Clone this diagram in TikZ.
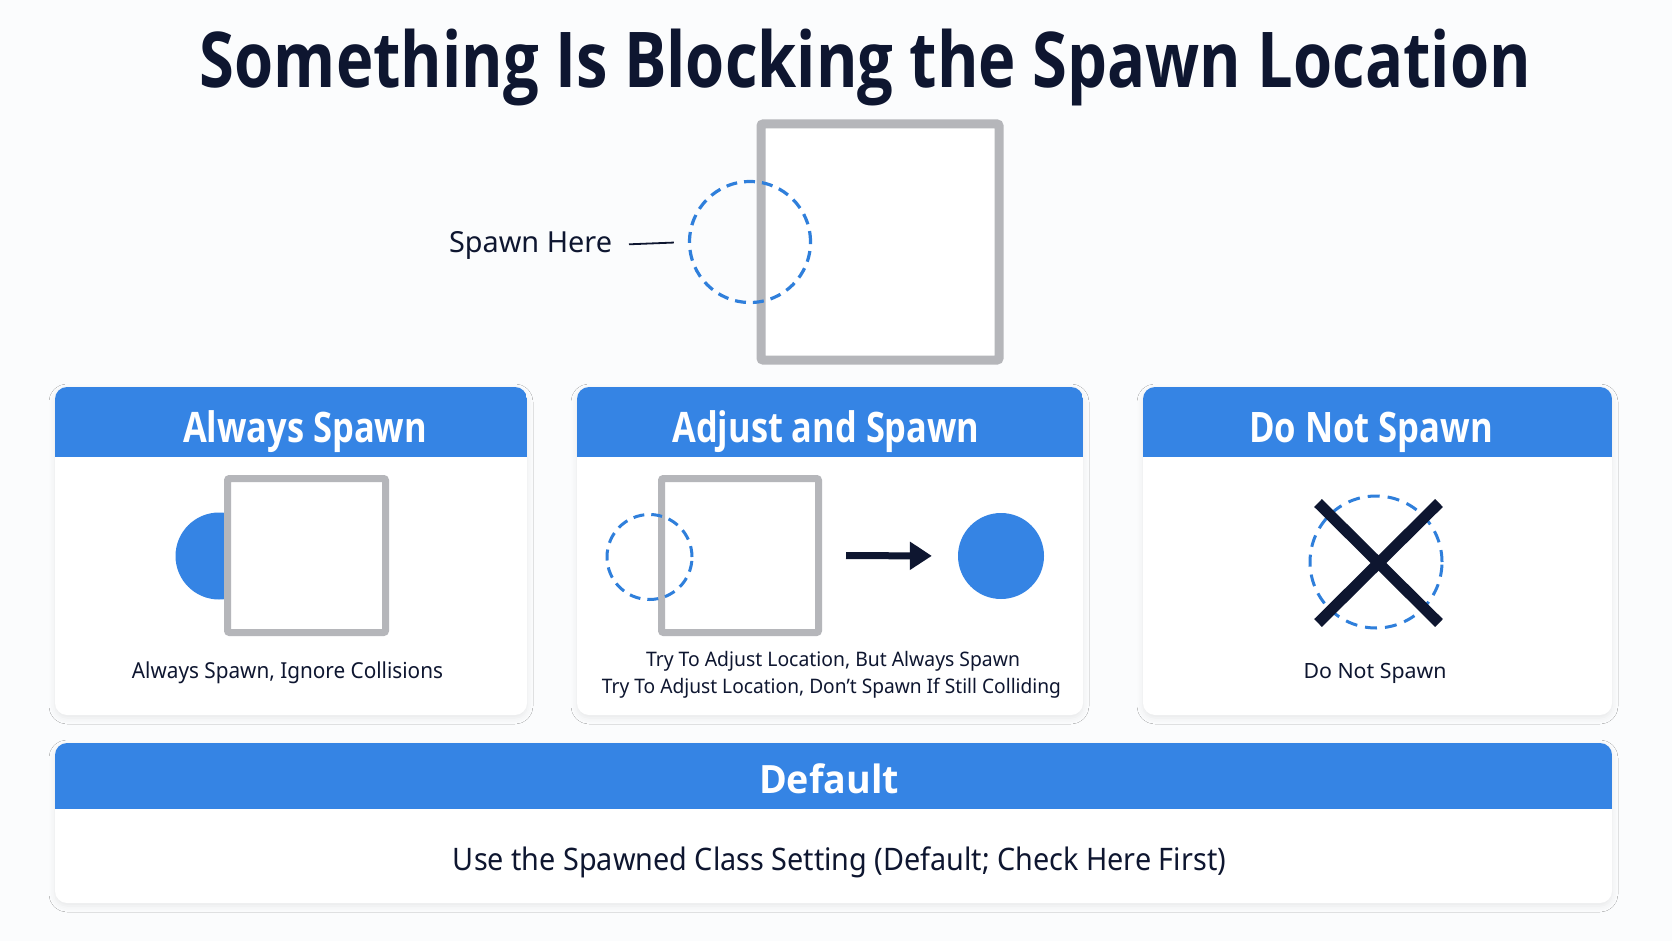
\documentclass[tikz,border=0pt]{standalone}
\usepackage{fontspec}
\setmainfont{Noto Sans}
\newfontfamily\boldfam{Open Sans}
\usetikzlibrary{arrows.meta,shadows.blur}
\definecolor{hdr}{RGB}{53,132,228}
\definecolor{dblue}{RGB}{47,127,219}
\definecolor{navy}{RGB}{14,22,48}
\definecolor{sqgray}{RGB}{181,182,186}
\definecolor{bgc}{RGB}{251,252,253}
\newcommand\fitw[2]{\resizebox{#1}{\height}{#2}}
\newcommand\mypanel[5]{%
  \fill[white, rounded corners=12pt, blur shadow={shadow xshift=0pt,shadow yshift=-3pt,shadow blur radius=6pt,shadow opacity=8}] (#1,#2) rectangle (#3,#4);
  \begin{scope}
    \clip[rounded corners=12pt] (#1,#2) rectangle (#3,#4);
    \fill[hdr] (#1,#2) rectangle (#3,#5);
  \end{scope}}
\tikzset{
  txt/.style={inner sep=0pt, outer sep=0pt, anchor=base, text=navy},
  hdrtxt/.style={inner sep=0pt, outer sep=0pt, anchor=base, text=white},
  graysq/.style={draw=sqgray, fill=white, rectangle, inner sep=0pt, rounded corners=2pt},
  dashcirc/.style={circle, draw=dblue, line width=3.2pt, dash pattern=on 11pt off 7pt, inner sep=0pt},
  fillcirc/.style={circle, fill=hdr, inner sep=0pt},
}
\begin{document}
\begin{tikzpicture}[x=1pt,y=-1pt]
\fill[bgc] (0,0) rectangle (1672,941);
\useasboundingbox (0,0) rectangle (1672,941);

% title
\node[txt] (title) at (865.5,88) {\fitw{1331pt}{\boldfam\fontsize{77}{80}\selectfont\bfseries Something Is Blocking the Spawn Location}};

% top illustration
\node[graysq, line width=9pt, minimum width=238pt, minimum height=236pt] (sq0) at (880,242) {};
\node[dashcirc, minimum size=121pt] (c0) at (750,242) {};
\node[txt] (sh) at (530.5,252) {\fitw{163pt}{\fontsize{29}{32}\selectfont Spawn Here}};
\draw[navy, line width=1.8pt, shorten <=17pt, shorten >=14pt] (sh.east) -- (c0.west);

% panels
\mypanel{55}{387}{527}{715}{457}
\mypanel{577}{387}{1083}{715}{457}
\mypanel{1143}{387}{1612}{715}{457}
\mypanel{55}{743}{1612}{903}{809}

\node[hdrtxt] (h1) at (305,442) {\fitw{244pt}{\boldfam\fontsize{42}{46}\selectfont\bfseries Always Spawn}};
\node[hdrtxt] (h2) at (826,442) {\fitw{307pt}{\boldfam\fontsize{42}{46}\selectfont\bfseries Adjust and Spawn}};
\node[hdrtxt] (h3) at (1371,442) {\fitw{244pt}{\boldfam\fontsize{42}{46}\selectfont\bfseries Do Not Spawn}};
\node[hdrtxt] (h4) at (829,793) {\fitw{140pt}{\boldfam\fontsize{39}{42}\selectfont\bfseries Default}};

% panel 1
\node[fillcirc, minimum size=87pt] (c1) at (219,556) {};
\node[graysq, line width=7pt, minimum width=158pt, minimum height=154pt] (s1) at (306.5,555.5) {};
\node[txt] (cap1) at (287.5,678) {\fitw{311pt}{\fontsize{22}{26}\selectfont Always Spawn, Ignore Collisions}};

% panel 2
\node[graysq, line width=7pt, minimum width=157pt, minimum height=154pt] (s2) at (740,555.5) {};
\node[dashcirc, line width=3pt, minimum size=85pt] (d2) at (649.5,557) {};
\node[fillcirc, minimum size=86pt] (c2) at (1001,556) {};
\draw[navy, line width=7pt, -{Triangle[length=22pt,width=27pt]}, shorten <=24pt, shorten >=26pt] (s2.east) -- (c2.west);
\node[txt] (cap2a) at (833,666) {\fitw{374pt}{\fontsize{20}{24}\selectfont Try To Adjust Location, But Always Spawn}};
\node[txt] (cap2b) at (831.5,693) {\fitw{459pt}{\fontsize{20}{24}\selectfont Try To Adjust Location, Don't Spawn If Still Colliding}};

% panel 3
\node[dashcirc, line width=3pt, dash pattern=on 12pt off 8pt, minimum size=132pt] (d3) at (1376,562) {};
\coordinate (xa) at (1318,503);
\coordinate (xb) at (1439,623);
\coordinate (xc) at (1439,503);
\coordinate (xd) at (1318,623);
\draw[navy, line width=11pt] (xa) -- (xb);
\draw[navy, line width=11pt] (xc) -- (xd);
\node[txt] (cap3) at (1375,678) {\fitw{143pt}{\fontsize{21}{25}\selectfont Do Not Spawn}};

% bottom
\node[txt] (cap4) at (839.5,870) {\fitw{773pt}{\fontsize{31}{35}\selectfont Use the Spawned Class Setting (Default; Check Here First)}};
\end{tikzpicture}
\end{document}
